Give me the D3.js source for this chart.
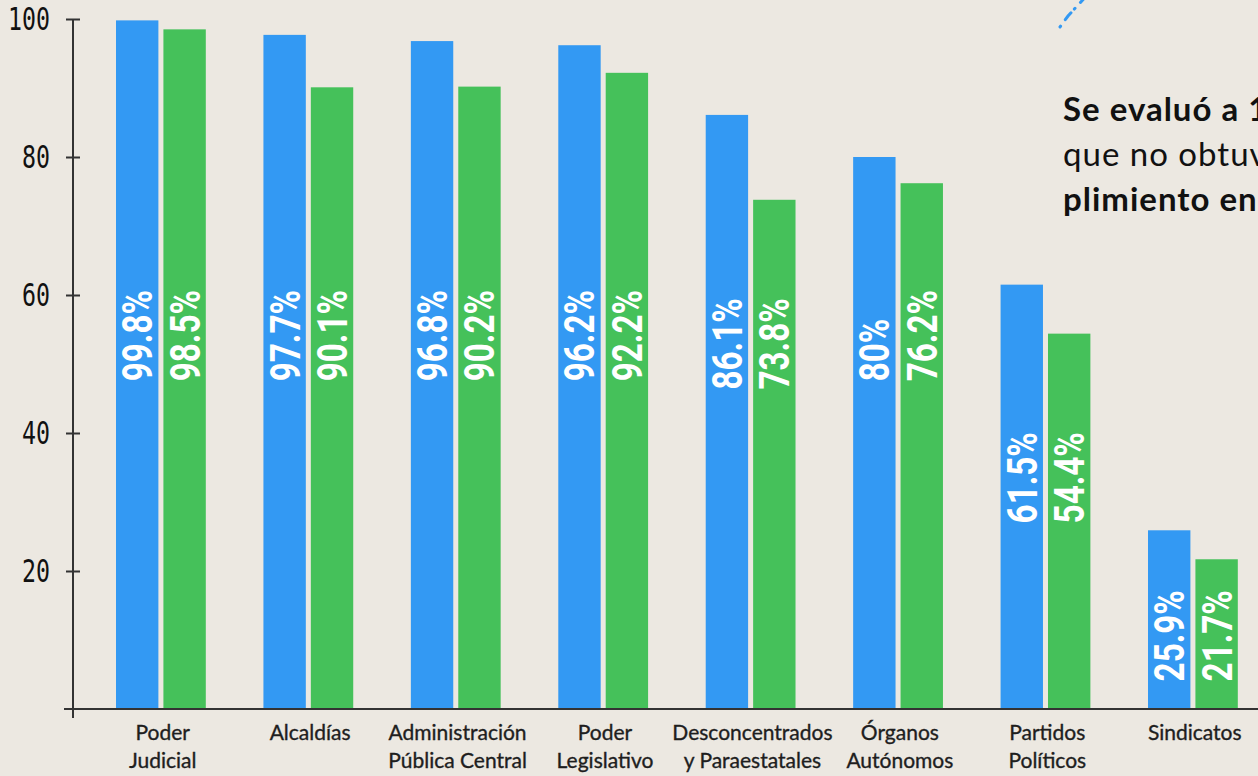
<!DOCTYPE html>
<html>
<head>
<meta charset="utf-8">
<script src="https://cdn.jsdelivr.net/npm/d3@7"></script>
<style>
  html, body { margin: 0; padding: 0; background: #ECE8E1; overflow: hidden; }
  svg { display: block; }
</style>
</head>
<body>
<svg id="chart" width="1258" height="776"></svg>
<script>
// ---- data ----
const categories = [
  "Poder|Judicial",
  "Alcaldías",
  "Administración|Pública Central",
  "Poder|Legislativo",
  "Desconcentrados|y Paraestatales",
  "Órganos|Autónomos",
  "Partidos|Políticos",
  "Sindicatos"
];
const seriesNames = ["azul", "verde"];
const valuesBlue  = [99.8, 97.7, 96.8, 96.2, 86.1, 80, 61.5, 25.9];
const valuesGreen = [98.5, 90.1, 90.2, 92.2, 73.8, 76.2, 54.4, 21.7];
const yTickValues = [20, 40, 60, 80, 100];
const noteLines = [
  { text: "Se evaluó a 1", weight: 700 },
  { text: "que no obtuv", weight: 400 },
  { text: "plimiento en", weight: 700 }
];

// ---- styles ----
const colors = { azul: "#3399F3", verde: "#45C15A" };
const W = 1258, H = 776;
const svg = d3.select("#chart");

svg.append("rect").attr("width", W).attr("height", H).attr("fill", "#ECE8E1");

const y = d3.scaleLinear().domain([0, 100]).range([709, 19]);
const x0 = d3.scaleBand().domain(categories).range([87.5, 87.5 + 8 * 147.43]).padding(0);
const x1 = d3.scaleBand().domain(seriesNames).range([28.5, 118.3]).paddingInner(0.106).paddingOuter(0);

const rows = categories.map((c, i) => ({
  cat: c,
  vals: [
    { key: "azul", v: valuesBlue[i] },
    { key: "verde", v: valuesGreen[i] }
  ],
  min: Math.min(valuesBlue[i], valuesGreen[i])
}));

// bars
const groups = svg.append("g").selectAll("g").data(rows).join("g")
  .attr("transform", d => `translate(${x0(d.cat)},0)`);

groups.selectAll("rect").data(d => d.vals).join("rect")
  .attr("x", d => x1(d.key))
  .attr("y", d => y(d.v))
  .attr("width", x1.bandwidth())
  .attr("height", d => y(0) - y(d.v))
  .attr("fill", d => colors[d.key]);

// value labels inside bars (rotated)
groups.each(function(row) {
  const start = Math.max(4, Math.min(47.5, row.min - 27.5));
  d3.select(this).selectAll("g.lbl").data(row.vals).join("g")
    .attr("class", "lbl")
    .attr("transform", d => `translate(${x1(d.key) + x1.bandwidth() / 2},${y(start)}) rotate(-90) scale(0.79,1)`)
    .append("text")
    .attr("x", 0).attr("y", 0)
    .attr("dy", "0.355em")
    .attr("text-anchor", "start")
    .attr("font-family", "Roboto, sans-serif")
    .attr("font-weight", 700)
    .attr("font-size", 42)
    .attr("fill", "#ffffff")
    .text(d => d.v + "%");
});

// y axis
const yAxis = svg.append("g").attr("transform", "translate(73,0)")
  .call(d3.axisLeft(y).tickValues(yTickValues).tickSize(7).tickPadding(16));
yAxis.select(".domain").remove();
yAxis.selectAll(".tick line").attr("x1", 7).attr("stroke", "#333").attr("stroke-width", 2);
yAxis.selectAll(".tick text")
  .attr("font-family", "'DejaVu Sans Mono', monospace")
  .attr("font-size", 32)
  .attr("fill", "#111")
  .attr("x", -23)
  .attr("textLength", d => String(d).length * 14)
  .attr("lengthAdjust", "spacingAndGlyphs");
svg.append("line")
  .attr("x1", 73).attr("x2", 73).attr("y1", y(100)).attr("y2", y(0) + 9)
  .attr("stroke", "#333").attr("stroke-width", 2);

// x axis
svg.append("line")
  .attr("x1", 64).attr("x2", W).attr("y1", y(0)).attr("y2", y(0))
  .attr("stroke", "#333").attr("stroke-width", 2);

const xLabels = svg.append("g").selectAll("text").data(categories).join("text")
  .attr("x", d => x0(d) + x0.bandwidth() / 2 + 1.5)
  .attr("y", 740)
  .attr("text-anchor", "middle")
  .attr("font-family", "Lato, sans-serif")
  .attr("font-size", 21)
  .attr("fill", "#1e1e1e")
  .attr("stroke", "#1e1e1e")
  .attr("stroke-width", 0.35);
xLabels.each(function(d) {
  const parts = d.split("|");
  const t = d3.select(this);
  parts.forEach((p, i) => {
    t.append("tspan").attr("x", x0(d) + x0.bandwidth() / 2 + 1.5).attr("dy", i === 0 ? 0 : 27.5).text(p);
  });
});

// note text on the right (clipped by the frame)
svg.append("g").selectAll("text").data(noteLines).join("text")
  .attr("x", 1063)
  .attr("y", (d, i) => 121 + i * 45)
  .attr("font-family", "Lato, sans-serif")
  .attr("font-size", 33)
  .attr("letter-spacing", 1)
  .attr("font-weight", d => d.weight)
  .attr("fill", "#111")
  .text(d => d.text);

// dashed blue stroke at top right
svg.append("path")
  .attr("d", "M1060,27 L1068,16 L1090,-8")
  .attr("fill", "none")
  .attr("stroke", "#3399F3")
  .attr("stroke-width", 3)
  .attr("stroke-linecap", "round")
  .attr("stroke-dasharray", "1 8 9 5");
</script>
</body>
</html>
